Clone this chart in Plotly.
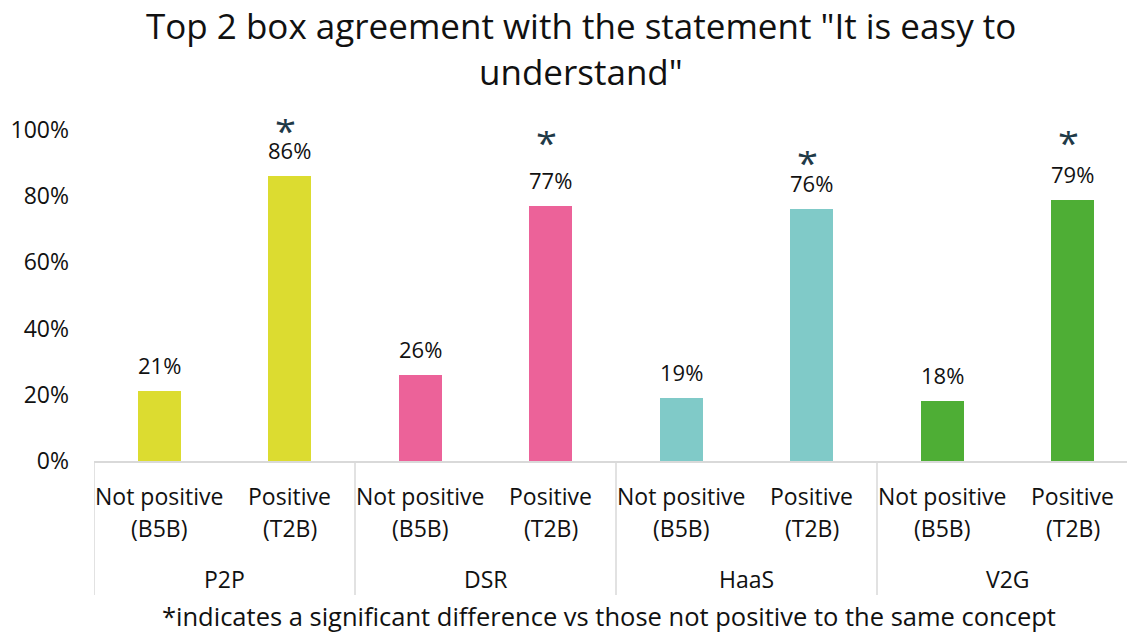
import plotly.graph_objects as go

# Concepts tested and the two respondent segments within each
concepts = ["P2P", "DSR", "HaaS", "V2G"]
segments = ["Not positive<br>(B5B)", "Positive<br>(T2B)"]

# Share agreeing "It is easy to understand" (top 2 box)
not_positive = [0.21, 0.26, 0.19, 0.18]
positive = [0.86, 0.77, 0.76, 0.79]

# Positive segment significantly higher than not positive
significant = [True, True, True, True]

concept_colors = ["#DCDC30", "#EC6299", "#80CAC8", "#4EAE35"]

title_text = 'Top 2 box agreement with the statement "It is easy to<br>understand"'
footnote = "*indicates a significant difference vs those not positive to the same concept"

FONT = "Open Sans"
TEXT = "#111111"
STAR = "#1F3A48"
LINE = "#D9D9D9"

W, H = 1127, 632
L, R, T, B = 94, 0, 130, 171
PW, PH = W - L - R, H - T - B


def px_x(px):
    return (px - L) / PW


def px_y(py):
    return (H - B - py) / PH


# vertical placement of each significance marker (axis units)
star_y = [1.0, 0.963, 0.903, 0.963]

x_pos, y_val, colors = [], [], []
for g, (a, b) in enumerate(zip(not_positive, positive)):
    x_pos += [2 * g, 2 * g + 1]
    y_val += [a, b]
    colors += [concept_colors[g]] * 2

fig = go.Figure(
    go.Bar(
        x=x_pos,
        y=y_val,
        marker=dict(color=colors, line=dict(width=0)),
        width=0.33,
        hoverinfo="skip",
    )
)

annotations = []
# value labels
for x, v in zip(x_pos, y_val):
    annotations.append(dict(
        x=x, y=v, xref="x", yref="y", text=f"{round(v * 100)}%",
        showarrow=False, yanchor="middle", yshift=26,
        font=dict(family=FONT, size=22, color=TEXT),
    ))
# significance markers (compact box so it does not cover the value label)
for g, sig in enumerate(significant):
    if sig:
        annotations.append(dict(
            x=2 * g + 1 - 0.03, y=star_y[g], xref="x", yref="y", text="*",
            showarrow=False, yanchor="middle", valign="middle",
            height=22, yshift=0,
            font=dict(family=FONT, size=38, color=STAR),
        ))
# segment labels (two lines) and concept labels
for g, name in enumerate(concepts):
    for s, seg in enumerate(segments):
        line1, line2 = seg.split("<br>")
        for txt, dy in ((line1, -35), (line2, -67)):
            annotations.append(dict(
                x=2 * g + s, y=0, xref="x", yref="paper", text=txt,
                showarrow=False, yanchor="middle", yshift=dy,
                font=dict(family=FONT, size=23, color=TEXT),
            ))
    annotations.append(dict(
        x=2 * g + 0.5, y=0, xref="x", yref="paper", text=name,
        showarrow=False, yanchor="middle", yshift=-118,
        font=dict(family=FONT, size=23, color=TEXT),
    ))
# footnote
annotations.append(dict(
    x=px_x(609), y=px_y(616), xref="paper", yref="paper", text=footnote,
    showarrow=False, xanchor="center", yanchor="middle",
    font=dict(family=FONT, size=25.5, color=TEXT),
))
# title lines
for txt, yc in zip(title_text.split("<br>"), (26, 71)):
    annotations.append(dict(
        x=px_x(581), y=px_y(yc), xref="paper", yref="paper", text=txt,
        showarrow=False, xanchor="center", yanchor="middle",
        font=dict(family=FONT, size=35, color=TEXT),
    ))

# group separators running below the axis
shapes = []
for g in range(len(concepts) + 1):
    shapes.append(dict(
        type="line", xref="x", yref="paper",
        x0=2 * g - 0.5, x1=2 * g - 0.5, y0=0, y1=px_y(595),
        line=dict(color=LINE, width=1.5),
    ))

fig.update_layout(
    width=W,
    height=H,
    margin=dict(l=L, r=R, t=T, b=B),
    paper_bgcolor="white",
    plot_bgcolor="white",
    showlegend=False,
    bargap=0,
    annotations=annotations,
    shapes=shapes,
    font=dict(family=FONT, color=TEXT),
)
fig.update_xaxes(
    range=[-0.5, -0.5 + PW / 130.5],
    showticklabels=False,
    showgrid=False,
    zeroline=False,
    showline=True,
    linecolor=LINE,
    linewidth=1.5,
    ticks="",
)
fig.update_yaxes(
    range=[0, 1],
    tickvals=[0, 0.2, 0.4, 0.6, 0.8, 1.0],
    tickformat=".0%",
    tickfont=dict(family=FONT, size=23, color=TEXT),
    ticklabelstandoff=24,
    showgrid=False,
    zeroline=False,
    showline=False,
    ticks="",
)

fig.write_html("out.html")
